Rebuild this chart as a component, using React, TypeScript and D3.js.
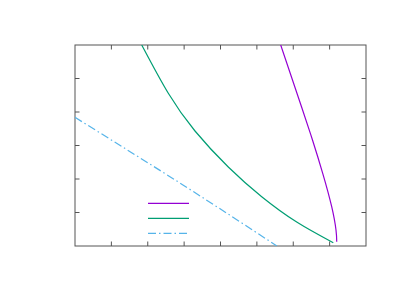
import { curveNatural, line, range, scaleLinear } from 'd3'

// series values (x, y in plot units)
const purpleX = [5.655, 6.227, 6.529, 6.81, 7.057, 7.175, 7.195]
const purpleY = [6.0, 4.158, 3.164, 2.17, 1.173, 0.478, 0.128]

const greenX = [1.834, 2.565, 3.299, 4.214, 5.133, 6.095, 7.101]
const greenY = [6.0, 4.558, 3.433, 2.358, 1.472, 0.716, 0.099]

const blueX = [0, 3.0, 5.55]
const blueY = [3.84, 1.8, 0]

const xTicks = range(0, 9)
const yTicks = range(0, 7)

const W = 393
const H = 295
const margin = { left: 75, right: 27, top: 45, bottom: 49 }

type Pt = [number, number]
const zip = (xs: number[], ys: number[]): Pt[] => xs.map((x, i) => [x, ys[i]])

const series = [
  { name: 'purple', color: '#9400d3', dash: undefined as string | undefined, pts: zip(purpleX, purpleY) },
  { name: 'green', color: '#009e73', dash: undefined as string | undefined, pts: zip(greenX, greenY) },
  { name: 'blue', color: '#56b4e9', dash: '8,3,1.5,3', pts: zip(blueX, blueY) },
]

export default function App() {
  const x = scaleLinear().domain([0, 8]).range([margin.left, W - margin.right])
  const y = scaleLinear().domain([0, 6]).range([H - margin.bottom, margin.top])
  const tick = 4.5
  const frame = '#555'

  const legendX0 = 148
  const legendX1 = 189
  const legendY = [203.3, 218.3, 233.3]

  const gen = line<Pt>()
    .x((d) => x(d[0]))
    .y((d) => y(d[1]))
    .curve(curveNatural)

  return (
    <svg width={W} height={H} style={{ position: 'absolute', left: 0, top: 0, background: '#fff' }}>
      <defs>
        <clipPath id="plot">
          <rect x={x(0)} y={y(6)} width={x(8) - x(0)} height={y(0) - y(6)} />
        </clipPath>
      </defs>
      <g stroke={frame} strokeWidth={1}>
        {xTicks.slice(1, -1).map((t) => (
          <g key={'x' + t}>
            <line x1={x(t)} x2={x(t)} y1={y(0)} y2={y(0) - tick} />
            <line x1={x(t)} x2={x(t)} y1={y(6)} y2={y(6) + tick} />
          </g>
        ))}
        {yTicks.slice(1, -1).map((t) => (
          <g key={'y' + t}>
            <line x1={x(0)} x2={x(0) + tick} y1={y(t)} y2={y(t)} />
            <line x1={x(8)} x2={x(8) - tick} y1={y(t)} y2={y(t)} />
          </g>
        ))}
        <rect x={x(0)} y={y(6)} width={x(8) - x(0)} height={y(0) - y(6)} fill="none" />
      </g>
      <g clipPath="url(#plot)" fill="none">
        {series.map((s) => (
          <path key={s.name} d={gen(s.pts) ?? ''} stroke={s.color} strokeWidth={1.2} strokeDasharray={s.dash} />
        ))}
      </g>
      <g>
        {series.map((s, i) => (
          <line
            key={'lg' + s.name}
            x1={legendX0}
            x2={legendX1}
            y1={legendY[i]}
            y2={legendY[i]}
            stroke={s.color}
            strokeWidth={1.3}
            strokeDasharray={s.dash}
          />
        ))}
      </g>
    </svg>
  )
}
